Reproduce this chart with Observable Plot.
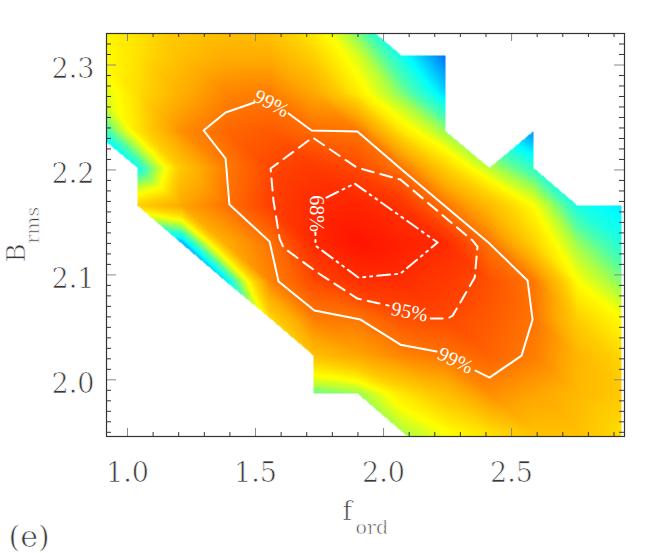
<!DOCTYPE html>
<html><head><meta charset="utf-8">
<script src="https://cdn.jsdelivr.net/npm/d3@7"></script>
<script src="https://cdn.jsdelivr.net/npm/@observablehq/plot@0.6"></script>
<style>html,body{margin:0;padding:0;background:#fff;} svg{display:block;}</style>
</head><body><div id="chart"></div>
<script>
// grid of the likelihood map (f_ord columns, B_rms rows); null = no model
const fGrid = [0.867, 1.039, 1.211, 1.383, 1.555, 1.727, 1.898, 2.070, 2.242, 2.414, 2.586, 2.758, 2.930];
const bGrid = [2.345, 2.309, 2.273, 2.237, 2.202, 2.166, 2.130, 2.094, 2.059, 2.023, 1.987, 1.951, 1.916];
const likelihood = [
  [0.40, 0.45, 0.50, 0.52, 0.50, 0.40, 0.22, null, null, null, null, null, null],
  [0.38, 0.46, 0.55, 0.60, 0.60, 0.50, 0.36, 0.16, 0.00, null, null, null, null],
  [0.32, 0.47, 0.60, 0.70, 0.72, 0.62, 0.44, 0.28, 0.10, null, null, null, null],
  [0.12, 0.45, 0.68, 0.77, 0.80, 0.76, 0.74, 0.45, 0.30, null, 0.02, null, null],
  [null, 0.16, 0.53, 0.72, 0.84, 0.88, 0.84, 0.74, 0.50, 0.33, 0.20, null, null],
  [null, 0.50, 0.62, 0.74, 0.86, 0.93, 0.95, 0.90, 0.74, 0.56, 0.40, 0.17, 0.12],
  [null, null, 0.05, 0.60, 0.74, 0.93, 1.00, 0.96, 0.93, 0.74, 0.50, 0.30, 0.18],
  [null, null, null, 0.10, 0.70, 0.84, 0.91, 0.92, 0.88, 0.82, 0.73, 0.40, 0.28],
  [null, null, null, null, 0.48, 0.72, 0.74, 0.82, 0.84, 0.80, 0.74, 0.50, 0.40],
  [null, null, null, null, null, 0.55, 0.62, 0.70, 0.74, 0.78, 0.72, 0.58, 0.48],
  [null, null, null, null, null, 0.26, 0.30, 0.45, 0.55, 0.68, 0.63, 0.57, 0.52],
  [null, null, null, null, null, null, null, 0.32, 0.40, 0.47, 0.55, 0.55, 0.47],
  [null, null, null, null, null, null, null, null, 0.35, 0.42, 0.48, 0.50, 0.45]
];

// confidence contours
const c99aF = [1.496, 1.383, 1.297, 1.383, 1.398, 1.555, 1.590, 1.730, 1.910, 2.066, 2.207];
const c99aB = [2.2643, 2.2547, 2.2376, 2.2109, 2.1670, 2.1317, 2.0936, 2.0660, 2.0574, 2.0335, 2.0269];
const c99bF = [2.359, 2.414, 2.539, 2.582, 2.5625, 2.414, 2.242, 2.066, 1.898, 1.719, 1.629];
const c99bB = [2.0088, 2.0021, 2.0231, 2.0574, 2.0946, 2.1298, 2.1651, 2.2013, 2.2366, 2.2376, 2.2538];
const c95F = [2.184, 2.250, 2.270, 2.356, 2.367, 2.348, 2.066, 1.895, 1.723, 1.559, 1.570, 1.594, 1.609, 1.742, 1.898, 2.020];
const c95B = [2.0584, 2.0584, 2.0612, 2.0974, 2.1270, 2.1327, 2.1908, 2.2023, 2.2309, 2.2013, 2.1708, 2.1346, 2.1260, 2.1022, 2.0774, 2.0707];
const c68F = [1.777, 1.887, 2.211, 2.066, 1.902, 1.734, 1.734];
const c68B = [2.1737, 2.1870, 2.1308, 2.1012, 2.0974, 2.1279, 2.1403];

const labelText = ["99%", "99%", "95%", "68%"];
const labelF = [1.5625, 2.2812, 2.1016, 1.7383];
const labelB = [2.2633, 2.0183, 2.0647, 2.1584];
const labelAngle = [28, 26, 11, 90];

const xTicks = [1.0, 1.5, 2.0, 2.5];
const yTicks = [2.0, 2.1, 2.2, 2.3];
const xMinor = d3.range(10, 30).map(d => d / 10).filter(d => !xTicks.some(t => Math.abs(t - d) < 1e-9));
const yMinor = d3.range(195, 234).map(d => d / 100).filter(d => !yTicks.some(t => Math.abs(t - d) < 1e-9));

const colorStops = [0, 0.07, 0.14, 0.24, 0.32, 0.40, 0.50, 0.62, 0.74, 0.86, 1.0];
const colorRamp = ["#0070ff", "#00b8ff", "#00ffff", "#50ffa8", "#b0ff40", "#ffff00", "#ffd000", "#ffa800", "#ff7400", "#ff4000", "#ff1400"];

const samples = [];
bGrid.forEach((b, r) => fGrid.forEach((f, c) => samples.push({f, b, v: likelihood[r][c]})));

// piecewise-linear interpolation over the triangulated grid; cells missing
// two or more corners stay empty, as in the original
function triangulatedGrid(index, w, h, X, Y, V) {
  const W = new Float64Array(w * h).fill(NaN);
  const nc = fGrid.length, nr = bGrid.length;
  const valid = new Uint8Array(X.length);
  for (const i of index) if (V[i] != null && isFinite(V[i])) valid[i] = 1;
  function tri(a, b, c) {
    const ax = X[a], ay = Y[a], bx = X[b], by = Y[b], cx = X[c], cy = Y[c];
    const det = (by - cy) * (ax - cx) + (cx - bx) * (ay - cy);
    if (!det) return;
    const x0 = Math.max(0, Math.floor(Math.min(ax, bx, cx))), x1 = Math.min(w - 1, Math.ceil(Math.max(ax, bx, cx)));
    const y0 = Math.max(0, Math.floor(Math.min(ay, by, cy))), y1 = Math.min(h - 1, Math.ceil(Math.max(ay, by, cy)));
    for (let py = y0; py <= y1; ++py) {
      const sy = py + 0.5;
      for (let px = x0; px <= x1; ++px) {
        const sx = px + 0.5;
        const l1 = ((by - cy) * (sx - cx) + (cx - bx) * (sy - cy)) / det;
        const l2 = ((cy - ay) * (sx - cx) + (ax - cx) * (sy - cy)) / det;
        const l3 = 1 - l1 - l2;
        if (l1 < -1e-6 || l2 < -1e-6 || l3 < -1e-6) continue;
        W[py * w + px] = l1 * V[a] + l2 * V[b] + l3 * V[c];
      }
    }
  }
  for (let r = 0; r < nr - 1; ++r) for (let c = 0; c < nc - 1; ++c) {
    const tl = r * nc + c, tr = tl + 1, bl = tl + nc, br = bl + 1;
    const q = [tl, tr, bl, br].filter(i => valid[i]);
    if (q.length === 4) { tri(tl, tr, br); tri(tl, bl, br); }
    else if (q.length === 3) tri(q[0], q[1], q[2]);
  }
  return W;
}

const pts = (F, B) => F.map((f, i) => ({f, b: B[i]}));
const labels = labelText.map((t, i) => ({t, f: labelF[i], b: labelB[i], a: labelAngle[i]}));

const FW = 664 - 106 - 40, FH = 553 - 33 - 117;
const serif = "DejaVu Serif";
const thin = {fill: "#3a3a3a", stroke: "#fff", strokeWidth: 0.7, paintOrder: "normal", fontFamily: serif};

const chart = Plot.plot({
  width: 664, height: 553,
  marginLeft: 106, marginRight: 40, marginTop: 33, marginBottom: 117,
  x: {domain: [0.918, 2.941], axis: null},
  y: {domain: [1.946, 2.330], axis: null},
  color: {type: "linear", domain: colorStops, range: colorRamp, interpolate: "rgb"},
  style: {background: "#fff", overflow: "visible"},
  marks: [
    Plot.raster(samples, {x: "f", y: "b", fill: "v", interpolate: triangulatedGrid}),
    Plot.line(pts(c99aF, c99aB), {x: "f", y: "b", stroke: "#fff", strokeWidth: 2}),
    Plot.line(pts(c99bF, c99bB), {x: "f", y: "b", stroke: "#fff", strokeWidth: 2}),
    Plot.line(pts(c95F, c95B), {x: "f", y: "b", stroke: "#fff", strokeWidth: 2, strokeDasharray: "12,7"}),
    Plot.line(pts(c68F, c68B), {x: "f", y: "b", stroke: "#fff", strokeWidth: 2, strokeDasharray: "13,5,2,5,2,5"}),
    Plot.text(labels, {x: "f", y: "b", text: "t", rotate: "a", fill: "#fff", fontSize: 20, fontFamily: "Liberation Serif", lineAnchor: "middle", textAnchor: "middle"}),
    // ticks (inward, on all four sides)
    Plot.tickX(xTicks, {x: d => d, insetTop: FH - 8, stroke: "#888"}),
    Plot.tickX(xTicks, {x: d => d, insetBottom: FH - 8, stroke: "#888"}),
    Plot.tickX(xMinor, {x: d => d, insetTop: FH - 4, stroke: "#333"}),
    Plot.tickX(xMinor, {x: d => d, insetBottom: FH - 4, stroke: "#333"}),
    Plot.tickY(yTicks, {y: d => d, insetRight: FW - 10, stroke: "#888"}),
    Plot.tickY(yTicks, {y: d => d, insetLeft: FW - 10, stroke: "#888"}),
    Plot.tickY(yMinor, {y: d => d, insetRight: FW - 5, stroke: "#333"}),
    Plot.tickY(yMinor, {y: d => d, insetLeft: FW - 5, stroke: "#333"}),
    // tick labels
    Plot.text(xTicks, {x: d => d, text: d => d.toFixed(1), frameAnchor: "bottom", dy: 45, lineAnchor: "bottom", fontSize: 27, ...thin}),
    Plot.text(yTicks, {y: d => d, text: d => d.toFixed(1), frameAnchor: "left", dx: -12, dy: 13, textAnchor: "end", lineAnchor: "bottom", fontSize: 27, ...thin}),
    // axis titles
    Plot.text(["f"], {text: d => d, frameAnchor: "bottom", dx: -23, dy: 83, textAnchor: "start", lineAnchor: "bottom", fontSize: 26, ...thin}),
    Plot.text(["ord"], {text: d => d, frameAnchor: "bottom", dx: -10, dy: 97, textAnchor: "start", lineAnchor: "bottom", fontSize: 19, ...thin}),
    Plot.text(["B"], {text: d => d, frameAnchor: "left", dx: -82, dy: 27.5, rotate: -90, textAnchor: "start", lineAnchor: "bottom", fontSize: 26, ...thin}),
    Plot.text(["rms"], {text: d => d, frameAnchor: "left", dx: -68, dy: 8.5, rotate: -90, textAnchor: "start", lineAnchor: "bottom", fontSize: 19, ...thin}),
    Plot.text(["(e)"], {text: d => d, frameAnchor: "bottom-left", dx: -98, dy: 110, textAnchor: "start", lineAnchor: "bottom", fontSize: 30, ...thin}),
    Plot.frame({stroke: "#333", strokeWidth: 1.2})
  ]
});
document.getElementById("chart").appendChild(chart);
</script>
</body></html>
